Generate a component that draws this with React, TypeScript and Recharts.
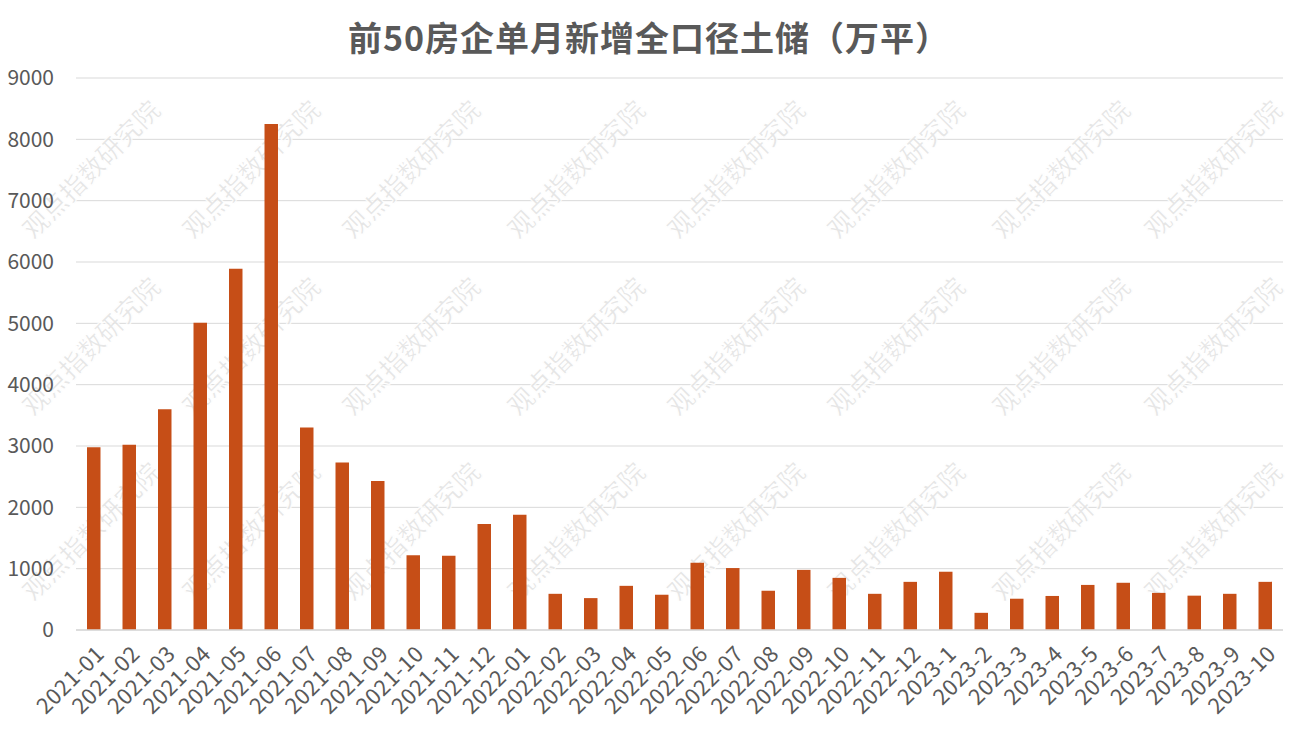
import React from "react";
import { BarChart, Bar, XAxis, YAxis, CartesianGrid, Customized } from "recharts";

const categories = [
  "2021-01", "2021-02", "2021-03", "2021-04", "2021-05", "2021-06", "2021-07", "2021-08", "2021-09", "2021-10", "2021-11", "2021-12",
  "2022-01", "2022-02", "2022-03", "2022-04", "2022-05", "2022-06", "2022-07", "2022-08", "2022-09", "2022-10", "2022-11", "2022-12",
  "2023-1", "2023-2", "2023-3", "2023-4", "2023-5", "2023-6", "2023-7", "2023-8", "2023-9", "2023-10",
];
const values = [
  2980, 3020, 3600, 5010, 5890, 8250, 3300, 2730, 2430, 1220, 1210, 1730,
  1880, 590, 520, 720, 575, 1095, 1010, 640, 980, 850, 590, 785,
  950, 280, 510, 555, 735, 770, 605, 560, 590, 785,
];
const yTicks = [0, 1000, 2000, 3000, 4000, 5000, 6000, 7000, 8000, 9000];
const title = "前50房企单月新增全口径土储（万平）";
const watermark = "观点指数研究院";

const data = categories.map((c, i) => ({ name: c, value: values[i] }));

const W = 1298;
const H = 730;
const FONT = "'Noto Sans CJK SC', 'Noto Sans', sans-serif";

const XTick = (props: any) => {
  const { x, y, payload } = props;
  const tx = x + 5;
  const ty = y + 10;
  return (
    <text
      x={tx}
      y={ty}
      transform={`rotate(-45, ${tx}, ${ty})`}
      textAnchor="end"
      dominantBaseline="central"
      fill="#595959"
      fontSize={22}
      letterSpacing={0.6}
      fontFamily={FONT}
    >
      {payload.value}
    </text>
  );
};

const Watermarks = () => {
  const cols = [90, 250, 410, 575, 735, 895, 1060, 1212];
  const rows = [168, 345, 530];
  const items: React.ReactNode[] = [];
  rows.forEach((r, ri) =>
    cols.forEach((c, ci) => {
      items.push(
        <text
          key={`${ri}-${ci}`}
          x={c}
          y={r}
          transform={`rotate(-45, ${c}, ${r})`}
          textAnchor="middle"
          dominantBaseline="central"
          fontSize={26}
          fontWeight="bold"
          fontFamily={FONT}
          fill="#e2e2e2"
          stroke="#ffffff"
          strokeWidth={1.2}
          opacity={0.85}
        >
          {watermark}
        </text>
      );
    })
  );
  return <g>{items}</g>;
};

export default function App() {
  return (
    <div style={{ position: "absolute", left: 0, top: 0, width: W, height: H, background: "#fff" }}>
      <div
        style={{
          position: "absolute",
          left: 0,
          top: 12,
          width: W,
          textAlign: "center",
          fontFamily: FONT,
          fontSize: 34,
          fontWeight: "bold",
          color: "#595959",
          lineHeight: "50px",
          letterSpacing: 1,
        }}
      >
        {title}
      </div>
      <BarChart
        width={W}
        height={H}
        data={data}
        margin={{ top: 78, right: 15, bottom: 0, left: 0 }}
        barCategoryGap="69%"
      >
        <CartesianGrid vertical={false} stroke="#d9d9d9" />
        <XAxis
          dataKey="name"
          interval={0}
          height={100}
          tickLine={false}
          axisLine={{ stroke: "#d9d9d9", strokeWidth: 1.5 }}
          tick={<XTick />}
        />
        <YAxis
          width={76}
          domain={[0, 9000]}
          ticks={yTicks}
          interval={0}
          tickLine={false}
          axisLine={false}
          tick={{ fill: "#595959", fontSize: 21, fontFamily: FONT }}
          tickMargin={16}
        />
        <Bar dataKey="value" fill="#C64E17" isAnimationActive={false} />
        <Customized component={<Watermarks />} />
      </BarChart>
    </div>
  );
}
